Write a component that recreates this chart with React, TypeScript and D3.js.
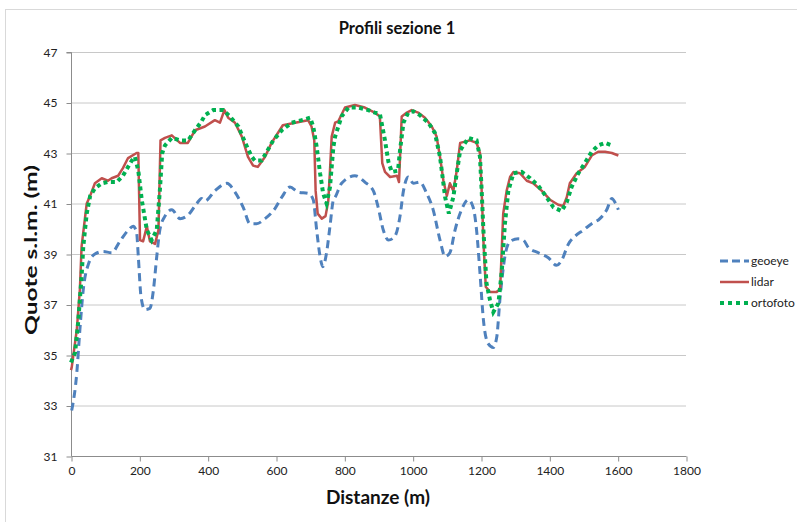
import React, { useEffect, useRef } from "react";
import * as d3 from "d3";

// distances (m) and elevations (m s.l.m.)
const lidarDist = [0, 2, 17, 26, 31, 46, 56, 70, 90, 108, 119, 138, 152, 167, 192, 197, 202, 211, 222, 231, 246, 256, 262, 275, 295, 319, 342, 363, 392, 421, 436, 449, 460, 480, 500, 518, 533, 547, 568, 587, 606, 620, 656, 675, 694, 704, 712, 716, 722, 734, 745, 753, 758, 763, 773, 782, 802, 831, 860, 889, 904, 911, 919, 934, 954, 960, 968, 983, 997, 1016, 1036, 1056, 1070, 1080, 1090, 1100, 1109, 1119, 1129, 1139, 1153, 1168, 1187, 1197, 1202, 1207, 1214, 1226, 1246, 1256, 1265, 1275, 1285, 1295, 1314, 1334, 1353, 1378, 1402, 1426, 1441, 1451, 1460, 1480, 1504, 1524, 1543, 1563, 1583, 1602];
const lidarQuote = [34.4, 34.5, 36.0, 37.6, 39.3, 41.0, 41.3, 41.8, 42.0, 41.9, 42.0, 42.1, 42.4, 42.8, 43.0, 43.0, 39.55, 39.5, 40.1, 39.5, 39.4, 39.95, 43.5, 43.6, 43.7, 43.4, 43.4, 43.9, 44.05, 44.3, 44.2, 44.7, 44.4, 44.2, 43.65, 42.85, 42.5, 42.45, 42.85, 43.4, 43.8, 44.1, 44.2, 44.25, 44.3, 44.05, 43.5, 41.5, 40.6, 40.4, 40.5, 41.1, 42.3, 43.65, 44.2, 44.25, 44.8, 44.9, 44.8, 44.6, 44.45, 42.6, 42.25, 42.05, 42.1, 41.85, 44.45, 44.6, 44.7, 44.6, 44.4, 44.05, 43.65, 42.85, 41.9, 41.3, 41.8, 41.5, 42.3, 43.4, 43.45, 43.5, 43.4, 43.0, 41.5, 39.55, 37.7, 37.5, 37.5, 37.6, 40.6, 41.5, 42.05, 42.25, 42.2, 41.9, 41.8, 41.5, 41.15, 40.95, 40.9, 41.25, 41.8, 42.2, 42.45, 42.9, 43.05, 43.05, 43.0, 42.9];

const ortoDist = [0, 12, 21, 31, 36, 46, 56, 70, 90, 108, 134, 152, 178, 187, 197, 207, 222, 236, 251, 260, 267, 275, 295, 319, 343, 363, 382, 392, 416, 446, 465, 490, 510, 529, 538, 558, 573, 592, 617, 646, 675, 700, 709, 719, 729, 738, 748, 758, 768, 773, 792, 812, 841, 870, 889, 904, 909, 919, 929, 939, 957, 963, 973, 987, 1002, 1021, 1046, 1065, 1080, 1095, 1106, 1119, 1129, 1139, 1163, 1187, 1197, 1202, 1207, 1216, 1226, 1236, 1251, 1261, 1270, 1280, 1295, 1319, 1344, 1368, 1392, 1412, 1436, 1451, 1465, 1485, 1504, 1524, 1543, 1563, 1583];
const ortoQuote = [34.7, 35.1, 36.3, 38.1, 39.3, 40.6, 41.3, 41.6, 41.8, 41.85, 41.85, 42.1, 42.7, 42.85, 42.3, 41.15, 39.95, 39.55, 39.95, 41.5, 43.0, 43.3, 43.6, 43.5, 43.5, 43.9, 44.25, 44.5, 44.7, 44.7, 44.45, 44.05, 43.4, 42.85, 42.7, 42.7, 43.05, 43.5, 43.9, 44.2, 44.3, 44.4, 44.05, 43.25, 42.2, 41.4, 41.0, 41.65, 43.25, 43.65, 44.45, 44.8, 44.8, 44.7, 44.6, 44.55, 44.2, 43.5, 42.65, 42.25, 42.3, 43.1, 44.2, 44.6, 44.65, 44.5, 44.2, 43.8, 42.85, 41.25, 40.6, 41.25, 42.2, 43.1, 43.6, 43.5, 42.85, 41.5, 39.95, 37.85, 37.2, 36.7, 37.05, 38.35, 40.2, 41.5, 42.2, 42.25, 42.0, 41.7, 41.25, 40.85, 40.7, 41.05, 41.65, 42.2, 42.6, 43.05, 43.3, 43.4, 43.3];

const geoDist = [2, 17, 26, 36, 51, 70, 94, 119, 143, 168, 182, 192, 197, 205, 216, 231, 241, 251, 260, 275, 295, 319, 343, 368, 382, 392, 421, 456, 480, 504, 524, 543, 568, 597, 617, 641, 665, 695, 709, 719, 729, 737, 748, 758, 768, 773, 792, 831, 860, 885, 899, 914, 929, 948, 963, 973, 987, 1002, 1021, 1041, 1060, 1080, 1095, 1109, 1124, 1143, 1163, 1177, 1187, 1197, 1207, 1221, 1236, 1246, 1256, 1270, 1285, 1309, 1324, 1339, 1368, 1397, 1421, 1436, 1456, 1475, 1500, 1524, 1548, 1568, 1583, 1592, 1602];
const geoQuote = [32.8, 34.3, 36.0, 37.6, 38.6, 39.0, 39.1, 39.05, 39.5, 39.95, 40.1, 39.85, 38.9, 37.3, 36.8, 36.85, 37.55, 38.9, 39.95, 40.5, 40.75, 40.4, 40.55, 41.0, 41.2, 41.1, 41.5, 41.8, 41.45, 40.85, 40.2, 40.2, 40.4, 40.8, 41.25, 41.65, 41.45, 41.4, 41.15, 39.95, 38.9, 38.5, 39.05, 40.1, 41.15, 41.25, 41.8, 42.1, 41.85, 41.5, 40.85, 39.95, 39.55, 39.7, 40.5, 41.5, 42.05, 41.8, 41.85, 41.4, 40.75, 39.55, 38.9, 39.05, 39.95, 40.75, 41.15, 40.85, 39.95, 38.25, 36.4, 35.45, 35.3, 35.7, 37.3, 38.9, 39.5, 39.6, 39.55, 39.25, 39.05, 38.85, 38.55, 38.75, 39.4, 39.7, 39.95, 40.2, 40.4, 40.75, 41.2, 41.05, 40.75];

const xTicks = [0, 200, 400, 600, 800, 1000, 1200, 1400, 1600, 1800];
const yTicks = [31, 33, 35, 37, 39, 41, 43, 45, 47];

const FONT = "Lato, 'Liberation Sans', sans-serif";

const App = () => {
  const svgRef = useRef<SVGSVGElement | null>(null);

  useEffect(() => {
    const svg = d3.select(svgRef.current);
    svg.selectAll("*").remove();

    const width = 797,
      height = 522;
    const left = 71,
      right = 686,
      top = 52,
      bottom = 456;

    svg.attr("width", width).attr("height", height);

    // chart frame
    svg
      .append("rect")
      .attr("x", 5.5)
      .attr("y", 9.5)
      .attr("width", 800)
      .attr("height", 520)
      .attr("fill", "#fff")
      .attr("stroke", "#d9d9d9");

    const x = d3.scaleLinear().domain([0, 1800]).range([left, right]);
    const y = d3.scaleLinear().domain([31, 47]).range([bottom, top]);

    // gridlines
    svg
      .append("g")
      .selectAll("line")
      .data(yTicks.slice(1))
      .enter()
      .append("line")
      .attr("x1", left)
      .attr("x2", right)
      .attr("y1", (d) => y(d) + 0.5)
      .attr("y2", (d) => y(d) + 0.5)
      .attr("stroke", "#c8c8c8")
      .attr("stroke-width", 1);

    const yAxis = svg
      .append("g")
      .attr("transform", `translate(${left + 0.5},0.5)`)
      .call(d3.axisLeft(y).tickValues(yTicks).tickSize(5).tickPadding(9));
    const xAxis = svg
      .append("g")
      .attr("transform", `translate(0.5,${bottom + 0.5})`)
      .call(d3.axisBottom(x).tickValues(xTicks).tickSize(5).tickPadding(5).tickFormat(d3.format("d")));

    [yAxis, xAxis].forEach((g) => {
      g.select(".domain").attr("stroke", "#8c8c8c");
      g.selectAll(".tick line").attr("stroke", "#8c8c8c");
      g.selectAll("text").attr("font-family", FONT).attr("font-size", 12).attr("fill", "#222");
    });
    yAxis.select(".domain").attr("d", `M-5,${top}H0V${bottom}`);
    xAxis.select(".domain").attr("d", `M${left},0H${right}`);

    const line = d3
      .line<[number, number]>()
      .x((d) => x(d[0]))
      .y((d) => y(d[1]));

    const geo = geoDist.map((d, i) => [d, geoQuote[i]] as [number, number]);
    const lidar = lidarDist.map((d, i) => [d, lidarQuote[i]] as [number, number]);
    const orto = ortoDist.map((d, i) => [d, ortoQuote[i]] as [number, number]);

    svg
      .append("path")
      .attr("d", line.curve(d3.curveMonotoneX)(geo))
      .attr("fill", "none")
      .attr("stroke", "#4f81bd")
      .attr("stroke-width", 3)
      .attr("stroke-dasharray", "8,5");

    svg
      .append("path")
      .attr("d", line.curve(d3.curveLinear)(lidar))
      .attr("fill", "none")
      .attr("stroke", "#c0504d")
      .attr("stroke-width", 2.5)
      .attr("stroke-linejoin", "round");

    svg
      .append("path")
      .attr("d", line.curve(d3.curveLinear)(orto))
      .attr("fill", "none")
      .attr("stroke", "#00b050")
      .attr("stroke-width", 4)
      .attr("stroke-dasharray", "4,3.5");

    // title and axis titles
    svg
      .append("text")
      .attr("x", 397)
      .attr("y", 34)
      .attr("text-anchor", "middle")
      .attr("font-family", FONT)
      .attr("font-weight", "bold")
      .attr("font-size", 16.5)
      .attr("fill", "#111")
      .text("Profili sezione 1");

    svg
      .append("text")
      .attr("transform", "translate(37,250) rotate(-90)")
      .attr("text-anchor", "middle")
      .attr("font-family", FONT)
      .attr("font-weight", "bold")
      .attr("font-size", 17)
      .attr("textLength", 170)
      .attr("lengthAdjust", "spacingAndGlyphs")
      .attr("fill", "#111")
      .text("Quote s.l.m. (m)");

    svg
      .append("text")
      .attr("x", 378)
      .attr("y", 504)
      .attr("text-anchor", "middle")
      .attr("font-family", FONT)
      .attr("font-weight", "bold")
      .attr("font-size", 19)
      .attr("fill", "#111")
      .text("Distanze (m)");

    // legend
    const legend = [
      { name: "geoeye", color: "#4f81bd", width: 3, dash: "8,4" },
      { name: "lidar", color: "#c0504d", width: 2.5, dash: null },
      { name: "ortofoto", color: "#00b050", width: 4, dash: "4,4" },
    ];
    const lg = svg
      .selectAll("g.legend")
      .data(legend)
      .enter()
      .append("g")
      .attr("class", "legend")
      .attr("transform", (d, i) => `translate(720,${261 + i * 21})`);
    lg.append("line")
      .attr("x1", 0)
      .attr("x2", 29)
      .attr("stroke", (d) => d.color)
      .attr("stroke-width", (d) => d.width)
      .attr("stroke-dasharray", (d) => d.dash);
    lg.append("text")
      .attr("x", 31)
      .attr("y", 4)
      .attr("font-family", FONT)
      .attr("font-size", 12)
      .attr("fill", "#222")
      .text((d) => d.name);
  }, []);

  return <svg ref={svgRef} style={{ position: "absolute", left: 0, top: 0 }}></svg>;
};

export default App;
